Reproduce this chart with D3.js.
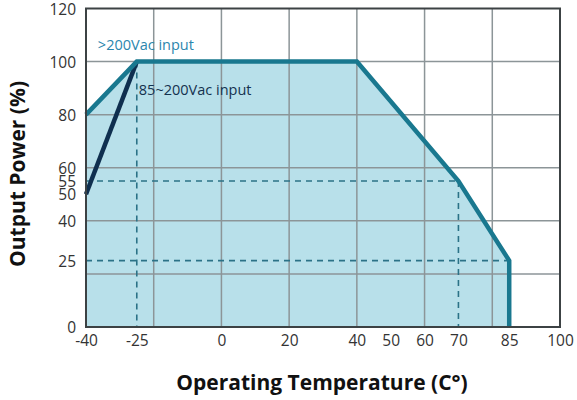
<!DOCTYPE html>
<html>
<head>
<meta charset="utf-8">
<script src="https://cdn.jsdelivr.net/npm/d3@7"></script>
<style>
  body { margin: 0; background: #fff; }
  svg text { font-family: "Open Sans", sans-serif; }
</style>
</head>
<body>
<svg id="chart" width="577" height="400"></svg>
<script>
// derating curve data
const xTicks = [-40, -25, 0, 20, 40, 50, 60, 70, 85, 100];
const yTicks = [0, 25, 40, 50, 55, 60, 80, 100, 120];
const xGrid = [-20, 0, 20, 40, 60, 80];
const yGrid = [20, 40, 60, 80, 100];

const highLine = [[-40, 80], [-25, 100], [40, 100], [70, 55], [85, 25], [85, 0]];
const lowLine = [[-40, 50], [-25, 100]];

const dashH = [[-40, 70, 55], [-40, 85, 25]];   // x1, x2, y
const dashV = [[-25, 100, 0], [70, 55, 0]];     // x, y1, y2

const margin = {top: 8.5, right: 17, bottom: 73, left: 86};
const width = 577, height = 400;
const innerWidth = width - margin.left - margin.right;
const innerHeight = height - margin.top - margin.bottom;

const svg = d3.select("#chart");
const g = svg.append("g").attr("transform", `translate(${margin.left},${margin.top})`);

const x = d3.scaleLinear().domain([-40, 100]).range([0, innerWidth]);
const y = d3.scaleLinear().domain([0, 120]).range([innerHeight, 0]);

// filled area under the >200Vac curve
const area = d3.area()
    .x(d => x(d[0]))
    .y0(y(0))
    .y1(d => y(d[1]));
g.append("path")
    .datum(highLine)
    .attr("d", area)
    .attr("fill", "#b8e0ea");

// grid
g.selectAll(".vgrid").data(xGrid).join("line")
    .attr("x1", d => x(d)).attr("x2", d => x(d))
    .attr("y1", 0).attr("y2", innerHeight)
    .attr("stroke", "#8c9598").attr("stroke-width", 1.5);
g.selectAll(".hgrid").data(yGrid).join("line")
    .attr("x1", 0).attr("x2", innerWidth)
    .attr("y1", d => y(d)).attr("y2", d => y(d))
    .attr("stroke", "#8c9598").attr("stroke-width", 1.5);

// dashed guides
g.selectAll(".dh").data(dashH).join("line")
    .attr("x1", d => x(d[0])).attr("x2", d => x(d[1]))
    .attr("y1", d => y(d[2])).attr("y2", d => y(d[2]))
    .attr("stroke", "#2b7287").attr("stroke-width", 1.6)
    .attr("stroke-dasharray", "6,5");
g.selectAll(".dv").data(dashV).join("line")
    .attr("x1", d => x(d[0])).attr("x2", d => x(d[0]))
    .attr("y1", d => y(d[1])).attr("y2", d => y(d[2]))
    .attr("stroke", "#2b7287").attr("stroke-width", 1.6)
    .attr("stroke-dasharray", "6,5");

const line = d3.line().x(d => x(d[0])).y(d => y(d[1]));

g.append("path").datum(lowLine)
    .attr("d", line)
    .attr("fill", "none")
    .attr("stroke", "#0f2f4f")
    .attr("stroke-width", 4.5);

g.append("path").datum(highLine)
    .attr("d", line)
    .attr("fill", "none")
    .attr("stroke", "#19788f")
    .attr("stroke-width", 4.5)
    .attr("stroke-linejoin", "miter");

// frame
g.append("rect")
    .attr("width", innerWidth).attr("height", innerHeight)
    .attr("fill", "none")
    .attr("stroke", "#3c4244").attr("stroke-width", 2);

// axes - plain hyphen for negatives like the original
const fmt = d => String(d);
const xAxis = g.append("g")
    .attr("transform", `translate(0,${innerHeight})`)
    .call(d3.axisBottom(x).tickValues(xTicks).tickSize(0).tickPadding(8).tickFormat(fmt));
const yAxis = g.append("g")
    .call(d3.axisLeft(y).tickValues(yTicks).tickSize(0).tickPadding(10).tickFormat(fmt));
[xAxis, yAxis].forEach(a => {
    a.select(".domain").remove();
    a.selectAll("text")
        .attr("fill", "#333")
        .style("font-size", "15.5px")
        .style("font-family", "'Open Sans', sans-serif");
});
yAxis.selectAll("text").attr("dy", "0.36em");

// labels
g.append("text")
    .attr("x", x(-36.5)).attr("y", y(104.2))
    .attr("fill", "#2b86ad")
    .style("font-size", "14.5px")
    .text(">200Vac input");
g.append("text")
    .attr("x", x(-24.4)).attr("y", y(87.3))
    .attr("fill", "#14324f")
    .style("font-size", "14.5px")
    .text("85~200Vac input");

svg.append("text")
    .attr("transform", "translate(25,174) rotate(-90)")
    .attr("text-anchor", "middle")
    .attr("fill", "#111")
    .style("font-size", "21px")
    .style("font-weight", "bold")
    .text("Output Power (%)");
svg.append("text")
    .attr("x", 322).attr("y", 390)
    .attr("text-anchor", "middle")
    .attr("fill", "#111")
    .style("font-size", "21px")
    .style("font-weight", "bold")
    .text("Operating Temperature (C°)");
</script>
</body>
</html>
